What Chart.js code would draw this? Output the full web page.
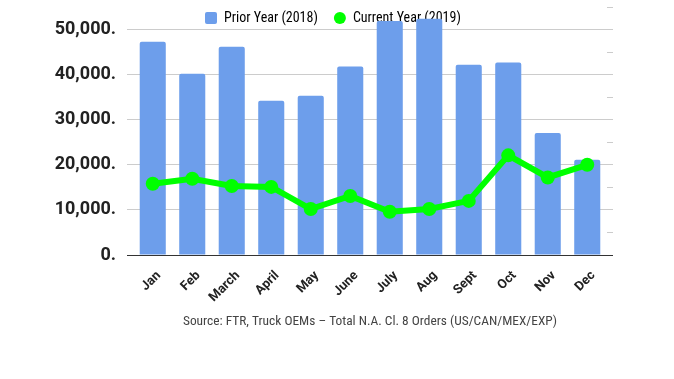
<!DOCTYPE html>
<html>
<head>
<meta charset="utf-8">
<script src="https://cdn.jsdelivr.net/npm/chart.js@4.4.1/dist/chart.umd.min.js"></script>
<style>
  html, body { margin: 0; padding: 0; background: #ffffff; }
  #wrap { position: relative; width: 674px; height: 379px; }
</style>
</head>
<body>
<div id="wrap"><canvas id="c" width="674" height="379"></canvas></div>
<script>
const categories = ['Jan', 'Feb', 'March', 'April', 'May', 'June', 'July', 'Aug', 'Sept', 'Oct', 'Nov', 'Dec'];
const priorYear = [47300, 40200, 46200, 34200, 35300, 41800, 51900, 52400, 42200, 42700, 27050, 21100];
const currentYear = [15800, 16900, 15300, 15100, 10200, 13100, 9600, 10200, 12000, 22100, 17200, 20000];
const seriesLabels = ['Prior Year (2018)', 'Current Year (2019)'];
const sourceText = 'Source: FTR, Truck OEMs \u2013 Total N.A. Cl. 8 Orders (US/CAN/MEX/EXP)';
const yMax = 55000;
const yStep = 5000;

const barColor = '#6d9eeb';
const lineColor = '#00ff00';
const condensed = '"Liberation Sans Narrow", "Roboto Condensed", "DejaVu Sans Condensed", Roboto, sans-serif';

// legend swatch for the bar series: small rounded square
const rectImg = document.createElement('canvas');
rectImg.width = 12; rectImg.height = 12;
(function () {
  const g = rectImg.getContext('2d');
  const r = 2, w = 12, h = 12;
  g.fillStyle = barColor;
  g.beginPath();
  g.moveTo(r, 0); g.lineTo(w - r, 0); g.arcTo(w, 0, w, r, r);
  g.lineTo(w, h - r); g.arcTo(w, h, w - r, h, r);
  g.lineTo(r, h); g.arcTo(0, h, 0, h - r, r);
  g.lineTo(0, r); g.arcTo(0, 0, r, 0, r);
  g.closePath(); g.fill();
})();

const placeBlocks = {
  id: 'placeBlocks',
  beforeLayout(chart) {
    const lg = chart.legend;
    if (lg && !lg._patched) {
      const origFit = lg.fit;
      lg.fit = function () { origFit.call(this); this.height = 0; };
      lg._patched = true;
    }
    const t = chart.titleBlock;
    if (t && !t._patched) {
      const origUpd = t.update;
      t.update = function (a, b, c) { origUpd.call(this, a, b, c); this.height = 0; this.bottom = this.top; };
      t._patched = true;
    }
  },
  afterLayout(chart) {
    const lg = chart.legend;
    if (lg) {
      lg.left = 205 - 16; lg.right = lg.left + 440;
      lg.top = 11 - 16; lg.bottom = lg.top + 50;
      lg.width = lg.right - lg.left; lg.height = lg.bottom - lg.top;
    }
    const t = chart.titleBlock;
    if (t) {
      const lh = 13.4 * 1.2;
      t.left = chart.chartArea.left; t.right = chart.chartArea.right;
      t.top = 322 - lh / 2; t.bottom = t.top + lh;
      t.width = t.right - t.left; t.height = lh;
    }
  }
};

const noPad = s => { s.paddingTop = 0; s.paddingBottom = 0; s.paddingLeft = 0; s.paddingRight = 0; };
const gridCol = c => (c.tick && c.tick.value === 0) ? '#333333' : '#cccccc';

new Chart(document.getElementById('c'), {
  type: 'bar',
  data: {
    labels: categories,
    datasets: [
      {
        type: 'bar',
        label: seriesLabels[0],
        data: priorYear,
        backgroundColor: barColor,
        borderRadius: 2,
        barPercentage: 0.66,
        categoryPercentage: 1.0,
        order: 1,
        yAxisID: 'y'
      },
      {
        type: 'line',
        label: seriesLabels[1],
        data: currentYear,
        borderColor: lineColor,
        backgroundColor: lineColor,
        borderWidth: 6,
        pointRadius: 7,
        pointBackgroundColor: lineColor,
        pointBorderWidth: 0,
        tension: 0,
        order: 0,
        yAxisID: 'y'
      }
    ]
  },
  options: {
    responsive: false,
    animation: false,
    devicePixelRatio: 1,
    layout: { padding: { top: 7, right: 0, bottom: 0, left: 0 } },
    plugins: {
      tooltip: { enabled: false },
      legend: {
        display: true,
        position: 'top',
        align: 'start',
        labels: {
          usePointStyle: true,
          boxWidth: 12,
          boxHeight: 8.5,
          padding: 16,
          color: '#5f5f5f',
          font: { family: condensed, size: 14 },
          generateLabels: (chart) => chart.data.datasets.map((ds, i) => ({
            text: ds.label,
            fillStyle: i === 0 ? barColor : lineColor,
            strokeStyle: i === 0 ? barColor : lineColor,
            lineWidth: 0,
            pointStyle: i === 0 ? rectImg : 'circle',
            hidden: false,
            datasetIndex: i
          }))
        }
      },
      title: {
        display: true,
        position: 'bottom',
        text: sourceText,
        color: '#444444',
        padding: 0,
        font: { family: condensed, size: 13.4, weight: 'normal', lineHeight: 1.2 }
      }
    },
    scales: {
      x: {
        grid: { display: false },
        border: { display: true, color: '#333333', width: 1 },
        ticks: {
          minRotation: 45,
          maxRotation: 45,
          color: '#222222',
          padding: 5,
          labelOffset: 6,
          font: { family: 'Roboto', size: 13, weight: 'bold' }
        },
        afterFit: s => { s.height = 124; noPad(s); }
      },
      y: {
        position: 'left',
        min: 0,
        max: yMax,
        grid: { color: gridCol, tickColor: gridCol, drawTicks: true, tickLength: 6, lineWidth: 1 },
        border: { display: false },
        ticks: {
          stepSize: yStep,
          padding: 11,
          color: '#222222',
          font: { family: 'Roboto', size: 18, weight: 'bold' },
          callback: v => (v % 10000 === 0) ? v.toLocaleString('en-US') + '.' : ''
        },
        afterFit: s => { s.width = 133; noPad(s); }
      },
      y2: {
        position: 'right',
        min: 0,
        max: yMax,
        grid: { drawOnChartArea: false, color: gridCol, tickColor: gridCol, drawTicks: true, tickLength: 6 },
        border: { display: false },
        ticks: { stepSize: yStep, callback: () => '' },
        afterFit: s => { s.width = 67; noPad(s); }
      }
    }
  },
  plugins: [placeBlocks]
});
</script>
</body>
</html>
